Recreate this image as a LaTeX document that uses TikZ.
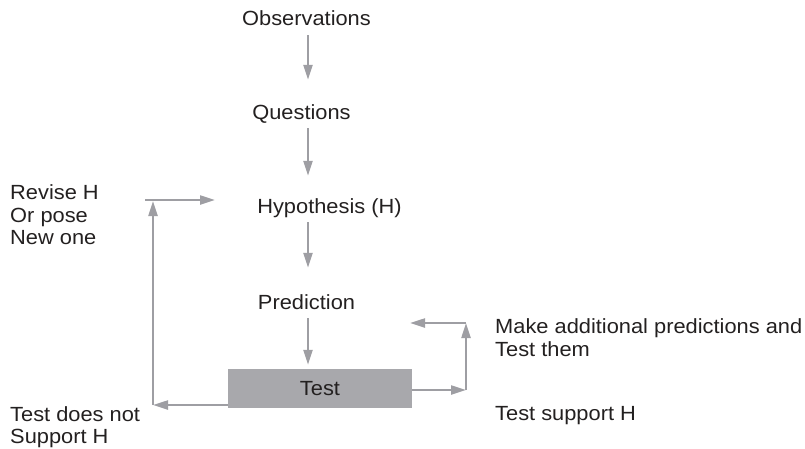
\documentclass[tikz,border=0pt]{standalone}
\usepackage{fontspec}
\setmainfont[FakeStretch=1.065]{Liberation Sans}
\usetikzlibrary{arrows.meta}
\definecolor{linegray}{RGB}{158,158,163}
\definecolor{boxgray}{RGB}{168,168,172}
\definecolor{ink}{RGB}{35,32,32}

\begin{document}
\begin{tikzpicture}[x=1pt,y=-1pt]
	\tikzstyle{Label} = [inner sep=0pt,text=ink,font=\fontsize{20.5}{22.5}\selectfont]
	\tikzstyle{Step} = [Label,text height=15pt,text depth=4pt]
	\tikzstyle{Flow} = [draw=linegray,line width=2.2pt,-{Triangle[length=15pt,width=9pt]}]
	\useasboundingbox (0,0) rectangle (805,448);
	% main column
	\coordinate (axis) at (308,0);
	\node[Step,anchor=base] (obs) at (306.5,25) {Observations};
	\node[Step,anchor=base] (ques) at (301.5,119) {Questions};
	\node[Step,anchor=base] (hyp) at (329.5,213) {Hypothesis (H)};
	\node[Step,anchor=base] (pred) at (306.5,309) {Prediction};
	\node[Label,fill=boxgray,minimum width=184pt,minimum height=39pt] (test) at (320,388.5) {Test};
	\draw[Flow,shorten <=6pt,shorten >=24pt] (obs.south -| axis) -- (ques.north -| axis);
	\draw[Flow,shorten <=5pt,shorten >=22pt] (ques.south -| axis) -- (hyp.north -| axis);
	\draw[Flow,shorten <=5pt,shorten >=26pt] (hyp.south -| axis) -- (pred.north -| axis);
	\draw[Flow,shorten <=5pt,shorten >=4pt] (pred.south -| axis) -- (test.north -| axis);
	% side texts
	\node[Label,anchor=north west,align=left] (revise) at (10,184.5) {Revise H\\Or pose\\New one};
	\node[Label,anchor=north west,align=left] (more) at (495,318.5) {Make additional predictions and\\Test them};
	\node[Label,anchor=north west,align=left] (nosup) at (10,406) {Test does not\\Support H};
	\node[Label,anchor=base west] (sup) at (495,420) {Test support H};
	% loops
	\coordinate (lowleft) at (153,405);
	\coordinate (upleft) at (153,201);
	\coordinate (revstart) at (145,200);
	\coordinate (revtip) at (215,200);
	\coordinate (lowright) at (466,390);
	\coordinate (upright) at (466,323);
	\coordinate (moretip) at (410,323);
	\draw[Flow] (test.west |- lowleft) -- (lowleft);
	\draw[Flow] (lowleft) -- (upleft);
	\draw[Flow] (revstart) -- (revtip);
	\draw[Flow] (test.east |- lowright) -- (lowright);
	\draw[Flow] (lowright) -- (upright);
	\draw[Flow] (upright) -- (moretip);
\end{tikzpicture}
\end{document}
